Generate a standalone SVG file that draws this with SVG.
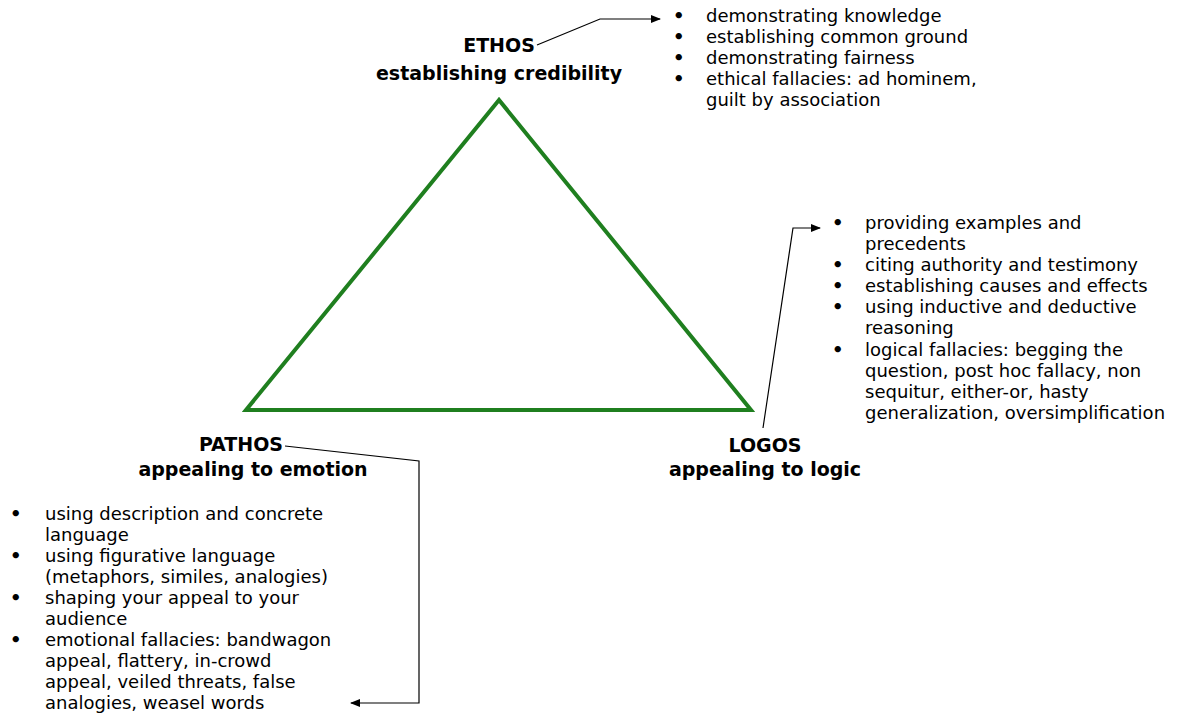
<svg xmlns="http://www.w3.org/2000/svg" width="1185" height="715" viewBox="0 0 1185 715">
<defs>
<marker id="ah" markerWidth="10" markerHeight="8" refX="9" refY="4" orient="auto" markerUnits="userSpaceOnUse">
<path d="M0,0 L10,4 L0,8 Z" fill="#000"/>
</marker>
<style>
text{font-family:"DejaVu Sans","Liberation Sans",sans-serif;fill:#000}
.t{font-size:19px;font-weight:bold;text-anchor:middle}
.l{font-size:18px}
.b{font-size:18px;font-weight:bold}
.c{fill:none;stroke:#000;stroke-width:1.2}
</style>
</defs>
<rect width="1185" height="715" fill="#fff"/>
<g id="triangle">
<path d="M499,100 L246,410 L751,410 Z" fill="none" stroke="#1f7f1f" stroke-width="4" stroke-linejoin="miter"/>
</g>
<g id="ethos">
<text class="t" x="499" y="52">ETHOS</text>
<text class="t" x="499" y="80">establishing credibility</text>
</g>
<g id="ethos-list">
<text x="673" y="22" class="b">•</text><text x="706" y="22" class="l">demonstrating knowledge</text>
<text x="673" y="43" class="b">•</text><text x="706" y="43" class="l">establishing common ground</text>
<text x="673" y="64" class="b">•</text><text x="706" y="64" class="l">demonstrating fairness</text>
<text x="673" y="85" class="b">•</text><text x="706" y="85" class="l">ethical fallacies: ad hominem,</text>
<text x="706" y="106" class="l">guilt by association</text>
</g>
<g id="logos">
<text class="t" x="765" y="452">LOGOS</text>
<text class="t" x="765" y="476">appealing to logic</text>
</g>
<g id="logos-list">
<text x="832" y="229" class="b">•</text><text x="865" y="229" class="l">providing examples and</text>
<text x="865" y="250" class="l">precedents</text>
<text x="832" y="271" class="b">•</text><text x="865" y="271" class="l">citing authority and testimony</text>
<text x="832" y="292" class="b">•</text><text x="865" y="292" class="l">establishing causes and effects</text>
<text x="832" y="313" class="b">•</text><text x="865" y="313" class="l">using inductive and deductive</text>
<text x="865" y="334" class="l">reasoning</text>
<text x="832" y="356" class="b">•</text><text x="865" y="356" class="l">logical fallacies: begging the</text>
<text x="865" y="377" class="l">question, post hoc fallacy, non</text>
<text x="865" y="398" class="l">sequitur, either-or, hasty</text>
<text x="865" y="419" class="l">generalization, oversimplification</text>
</g>
<g id="pathos">
<text class="t" x="241" y="451">PATHOS</text>
<text class="t" x="253" y="476">appealing to emotion</text>
</g>
<g id="pathos-list">
<text x="10" y="520" class="b">•</text><text x="45" y="520" class="l">using description and concrete</text>
<text x="45" y="541" class="l">language</text>
<text x="10" y="562" class="b">•</text><text x="45" y="562" class="l">using figurative language</text>
<text x="45" y="583" class="l">(metaphors, similes, analogies)</text>
<text x="10" y="604" class="b">•</text><text x="45" y="604" class="l">shaping your appeal to your</text>
<text x="45" y="625" class="l">audience</text>
<text x="10" y="646" class="b">•</text><text x="45" y="646" class="l">emotional fallacies: bandwagon</text>
<text x="45" y="667" class="l">appeal, flattery, in-crowd</text>
<text x="45" y="688" class="l">appeal, veiled threats, false</text>
<text x="45" y="709" class="l">analogies, weasel words</text>
</g>
<g id="connectors">
<path class="c" d="M537,45 L600,19 L660,19" marker-end="url(#ah)"/>
<path class="c" d="M763,428 L793,228 L820,228" marker-end="url(#ah)"/>
<path class="c" d="M285,446 L419,461 L419,703 L351,703" marker-end="url(#ah)"/>
</g>
</svg>
